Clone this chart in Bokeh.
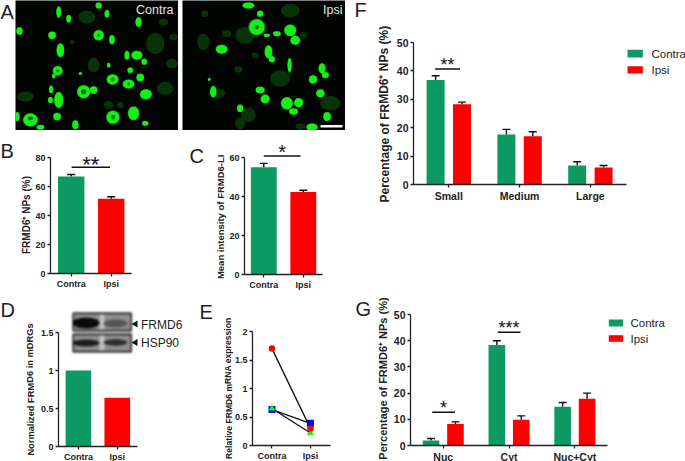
from bokeh.plotting import figure
from bokeh.layouts import column
from bokeh.models import Whisker, TeeHead, Range1d, FixedTicker, ColumnDataSource
from bokeh.core.properties import value
from bokeh.embed import file_html
from bokeh.resources import INLINE

W, H = 685, 461
GREEN, RED = "#0D9A62", "#FF0000"
FONT = "Liberation Sans"

groups_two = ["Contra", "Ipsi"]
b_vals = [67, 51.5]; b_errs = [68.3, 53]
c_vals = [55, 42.3]; c_errs = [57, 43.2]
d_vals = [1.0, 0.64]
e_circle = [1.7, 0.3]; e_square = [0.63, 0.39]; e_triangle = [0.65, 0.22]
f_groups = ["Small", "Medium", "Large"]
f_contra = [36.8, 17.6, 6.7]; f_contra_err = [38.3, 19.4, 8.0]
f_ipsi = [28.3, 17.0, 6.0]; f_ipsi_err = [29.0, 18.6, 6.7]
g_groups = ["Nuc", "Cyt", "Nuc+Cyt"]
g_contra = [1.9, 38.4, 14.8]; g_contra_err = [2.7, 40.0, 16.4]
g_ipsi = [8.2, 9.8, 17.8]; g_ipsi_err = [9.0, 11.3, 20.0]

# micrograph cells: (x, y, rx, ry) in image units
a_left_bright = [(175,35,7,17),(205,55,7,11),(295,15,9,9),(320,40,7,11),(415,65,9,14),(57,92,9,11),
 (155,105,11,11),(295,105,15,15),(335,118,8,13),(180,150,11,20),(380,165,7,13),(410,165,16,13),(432,185,8,9),
 (172,212,14,14),(160,228,5,7),(390,210,8,8),(420,232,11,11),(337,238,17,15),(385,252,17,13),(250,275,19,19),
 (280,270,11,11),(437,283,17,15),(152,268,6,11),(175,300,13,23),(150,300,7,9),(170,350,11,11),(90,360,21,19),
 (50,350,7,13),(338,352,19,19),(400,340,16,20),(225,375,9,13),(120,382,11,7),(435,370,9,7),(240,220,5,4),(325,195,5,7)]
a_left_dim = [(465,130,28,32),(260,50,25,20),(280,195,18,22),(75,290,25,15),(495,265,25,20),(515,190,18,14),
 (490,65,15,10),(520,110,12,10),(325,315,15,12),(360,315,10,10),(215,125,8,6)]
a_left_holes = [(250,275,8,8),(295,105,5,5),(337,238,6,6),(172,212,5,5),(90,355,8,6),(338,352,7,7),(385,252,5,4)]
a_right_bright = [(745,15,17,9),(770,80,23,23),(780,40,9,9),(800,105,9,5),(830,100,11,7),(870,90,17,17),
 (885,120,14,13),(665,147,17,13),(805,155,11,19),(815,177,9,9),(868,195,6,21),(965,205,10,15),(975,225,10,9),
 (938,238,12,12),(960,280,12,12),(780,270,13,10),(795,297,13,13),(860,310,17,18),(895,308,13,13),(980,350,11,13),
 (935,382,16,11),(720,325,9,11),(880,335,13,9),(640,275,9,17),(628,238,4,4)]
a_right_dim = [(610,125,18,25),(735,105,30,25),(680,100,14,10),(990,310,30,22),(650,280,25,15),(720,370,15,18),
 (910,105,10,10),(615,40,10,10),(870,30,28,20),(840,235,30,25),(715,208,12,10),(765,165,10,8),(900,380,15,10),(745,345,22,22)]
a_right_holes = [(770,80,7,7)]

ML, MR, MT, MB = 46, 8, 10, 15
figs = []


def place(fig, left, top, extra=None):
    st = {"position": "absolute", "left": f"{left}px", "top": f"{top}px"}
    st.update(extra or {})
    fig.styles = st
    figs.append(fig)


def bare(x_range, y_range, left, top, w, h, extra=None, **kw):
    p = figure(width=w, height=h, frame_width=w, frame_height=h, x_range=x_range, y_range=y_range,
               x_axis_location=None, y_axis_location=None, frame_align=False,
               output_backend="svg", toolbar_location=None,
               min_border_left=0, min_border_right=0, min_border_top=0, min_border_bottom=0,
               border_fill_alpha=0, outline_line_color=None, **kw)
    p.grid.visible = False
    place(p, left, top, extra)
    return p


def panel(frame_left, frame_right, y0_px, ytop_px, ymax, yticks, centers, names, xc_px, dx_px,
          tick_size="9px", top_extra=30):
    """Frame in page pixels; extends above the axis top so brackets are not clipped."""
    fw = frame_right - frame_left
    top_px = ytop_px - top_extra
    fh = y0_px - top_px
    scale = (y0_px - ytop_px) / ymax
    x0 = centers[0] + (frame_left - xc_px) / dx_px
    x1 = centers[0] + (frame_right - xc_px) / dx_px
    p = figure(width=int(round(fw)) + ML + MR, height=int(round(fh)) + MT + MB,
               frame_width=int(round(fw)), frame_height=int(round(fh)), frame_align=False,
               x_range=Range1d(x0, x1), y_range=Range1d(0, fh / scale),
               output_backend="svg", toolbar_location=None,
               min_border_left=ML, min_border_right=MR, min_border_top=MT, min_border_bottom=MB,
               background_fill_alpha=0, border_fill_alpha=0, outline_line_color=None)
    p.grid.visible = False
    yax, xax = p.yaxis[0], p.xaxis[0]
    yax.bounds = (0, ymax)
    yax.ticker = FixedTicker(ticks=yticks)
    xax.ticker = FixedTicker(ticks=centers)
    xax.major_label_overrides = {c: n for c, n in zip(centers, names)}
    for ax in (xax, yax):
        ax.axis_line_color = "#222222"
        ax.axis_line_width = 1.3
        ax.major_tick_line_color = "#222222"
        ax.major_tick_line_width = 1.3
        ax.major_tick_out = 3
        ax.major_tick_in = 0
        ax.minor_tick_line_color = None
        ax.major_label_text_font = FONT
        ax.major_label_text_font_style = "bold"
        ax.major_label_text_font_size = tick_size
        ax.major_label_text_color = "#222222"
        ax.major_label_standoff = 2
    place(p, round(frame_left) - ML, round(top_px) - MT)
    return p, scale


def bars(p, xs, tops, errs, width, color):
    p.vbar(x=xs, top=tops, bottom=0, width=width, fill_color=color, line_color=None)
    if errs is not None:
        src = ColumnDataSource(dict(x=xs, low=tops, up=errs))
        p.add_layout(Whisker(source=src, base="x", lower="low", upper="up", dimension="height",
                             line_color="#111111", line_width=1.4,
                             upper_head=TeeHead(size=8, line_color="#111111", line_width=1.4),
                             lower_head=None))


def sig(p, x0, x1, y, stars, star_y, size="15px"):
    p.segment(x0=[x0], y0=[y], x1=[x1], y1=[y], line_color="#111111", line_width=1.5)
    p.text(x=[(x0 + x1) / 2], y=[star_y], text=[stars], text_align="center", text_baseline="middle",
           text_font=value(FONT), text_font_size=size, text_color="#111111")


def micro(left, right, bright, dim, holes, x_min, x_max):
    p = bare(Range1d(x_min, x_max), Range1d(392, 0), left, 0, right - left, 130,
             {"filter": "blur(0.7px)"}, background_fill_color="#010401")
    def ell(cells, color, grow=1.0, alpha=1.0):
        p.ellipse(x=[c[0] for c in cells], y=[c[1] for c in cells],
                  width=[2 * c[2] * grow for c in cells], height=[2 * c[3] * grow for c in cells],
                  fill_color=color, fill_alpha=alpha, line_color=None)
    ell(dim, "#0A3F0A", 1.0, 0.8)
    ell(bright, "#12C012", 1.1, 0.7)
    ell(bright, "#14F014", 1.0)
    ell(holes, "#0A7A0A", 1.0)


micro(15, 178, a_left_bright, a_left_dim, a_left_holes, 45, 535)
micro(182, 345, a_right_bright, a_right_dim, a_right_holes, 548, 1035)

# --- B
p, s = panel(50, 131, 272.7, 157, 80, [0, 20, 40, 60, 80], [1, 2], groups_two, 70.7, 40)
for i, c in enumerate([GREEN, RED]):
    bars(p, [i + 1], [b_vals[i]], [b_errs[i]], 0.66, c)
sig(p, 1.01, 1.97, 73.3, "**", 75.5, "22px")

# --- C
p, s = panel(244.3, 322.7, 273.7, 157, 60, [0, 20, 40, 60], [1, 2], groups_two, 263.7, 39.7)
for i, c in enumerate([GREEN, RED]):
    bars(p, [i + 1], [c_vals[i]], [c_errs[i]], 0.655, c)
sig(p, 1.0, 1.93, 60.8, "*", 62.8, "20px")

# --- D
p, s = panel(58, 137.3, 446, 332.3, 1.5, [0, 0.5, 1.0, 1.5], [1, 2], groups_two, 78, 39, top_extra=5)
for i, c in enumerate([GREEN, RED]):
    bars(p, [i + 1], [d_vals[i]], None, 0.66, c)

# --- E
p, s = panel(252.3, 330, 444.3, 330.7, 2.0, [0, 0.5, 1.0, 1.5, 2.0], [1, 2], groups_two, 271.7, 38.3, top_extra=5)
for series in (e_circle, e_square, e_triangle):
    p.line([1, 2], series, line_color="#111111", line_width=1.3)
p.scatter([1, 2], e_square, marker="square", size=7, fill_color="#0000FF", line_color=None)
p.scatter([1, 2], e_triangle, marker="triangle", size=7, fill_color="#00FF00", line_color=None)
p.scatter([1, 2], e_circle, marker="circle", size=6.5, fill_color="#FF0000", line_color=None)

# --- F
p, s = panel(412.7, 625.7, 184, 42.3, 50, [0, 10, 20, 30, 40, 50], [1, 2, 3], f_groups, 448, 70.8,
             tick_size="10.5px", top_extra=5)
off, bw = 13.2 / 70.8, 18 / 70.8
bars(p, [1 - off, 2 - off, 3 - off], f_contra, f_contra_err, bw, GREEN)
bars(p, [1 + off, 2 + off, 3 + off], f_ipsi, f_ipsi_err, bw, RED)
sig(p, 1 - 13.7 / 70.8, 1 + 11.3 / 70.8, 40.7, "**", 42.2, "18px")

# --- G
p, s = panel(410, 606.7, 444.7, 314, 50, [0, 10, 20, 30, 40, 50], [1, 2, 3], g_groups, 442.7, 65.7,
             tick_size="10.5px", top_extra=5)
off, bw = 12.2 / 65.7, 16.6 / 65.7
bars(p, [1 - off, 2 - off, 3 - off], g_contra, g_contra_err, bw, GREEN)
bars(p, [1 + off, 2 + off, 3 + off], g_ipsi, g_ipsi_err, bw, RED)
sig(p, 1 - 11 / 65.7, 1 + 11.7 / 65.7, 12.7, "*", 14.4, "18px")
sig(p, 2 - 11.3 / 65.7, 2 + 11.4 / 65.7, 43.2, "***", 45, "18px")

# --- blots, own blurred layer
bl = bare(Range1d(70, 135), Range1d(355, 310), 70, 310, 65, 45, {"filter": "blur(0.9px)"}, background_fill_alpha=0)
bl.rect(x=[101.7, 101.7], y=[321.5, 342.5], width=[58, 58], height=[17.5, 17.5], fill_color="#8E8E8E",
        line_color="#333333", line_width=1.8)
bl.rect(x=[101.5, 101.5], y=[321.5, 342.5], width=[5, 5], height=[15, 15], fill_color="#C0C0C0", line_color=None)
bl.ellipse(x=[85.5, 115, 85.5, 115], y=[322.5, 323, 342.5, 342], width=[27, 24, 27, 24], height=[11, 8, 7, 6.5],
           fill_color=["#0A0A0A", "#555555", "#1C1C1C", "#2E2E2E"], line_color=None)

# --- overlay in page pixels: letters, titles, legends
ov = bare(Range1d(0, W), Range1d(H, 0), 0, 0, W, H, background_fill_alpha=0)

panel_letters = ["A", "B", "C", "D", "E", "F", "G"]
letter_x = [0, 0, 189, 0, 199, 354, 355]
letter_y = [11, 150, 155, 309, 311, 9, 308]
ov.text(x=letter_x, y=letter_y, text=panel_letters, text_baseline="middle", text_font=value(FONT),
        text_font_size="20px", text_color="#222222")

y_titles = ["FRMD6\u207A NPs (%)", "Mean intensity of FRMD6-LI", "Normalized FRMD6 in mDRGs",
            "Relative FRMD6 mRNA expression", "Percentage of FRMD6\u207A NPs (%)", "Percentage of FRMD6\u207A NPs (%)"]
title_x = [26, 220, 30, 228, 384, 382.7]
title_y = [214.5, 216.3, 389, 387.7, 113.7, 378]
title_size = ["10px", "9.5px", "9.3px", "8.6px", "12px", "11px"]
ov.text(x=title_x, y=title_y, text=y_titles, angle=1.5708, angle_units="rad", text_align="center",
        text_baseline="middle", text_font=value(FONT), text_font_style="bold", text_font_size=title_size,
        text_color="#222222")

image_labels = ["Contra", "Ipsi"]
ov.text(x=[135.5, 322.5], y=[9, 9], text=image_labels, text_baseline="middle", text_font=value(FONT),
        text_font_size="12.5px", text_color="#E4E4E4")
ov.rect(x=[331], y=[125.7], width=[22], height=[2.4], fill_color="white", line_color=None)

legend_labels = ["Contra", "Ipsi"]
ov.rect(x=[634.7, 634.7, 615.5, 615.5], y=[53.2, 69.4, 322.5, 338], width=[15.3, 15.3, 14.4, 14.4],
        height=[7.8, 7.4, 7, 6.6], fill_color=[GREEN, RED, GREEN, RED], line_color=None)
ov.text(x=[651, 651, 630, 630], y=[53, 69.5, 322.5, 338], text=legend_labels * 2, text_baseline="middle",
        text_font=value(FONT), text_font_size="11.5px", text_color="#222222")

blot_labels = ["FRMD6", "HSP90"]
ov.text(x=[140.5, 140.5], y=[324, 342], text=blot_labels, text_baseline="middle", text_font=value(FONT),
        text_font_size="12px", text_color="#222222")
ov.scatter(x=[135, 135], y=[323.5, 342], marker="triangle", size=7, angle=1.5708,
           fill_color="#111111", line_color=None)

root = column(*figs, width=W, height=H)
root.styles = {"position": "absolute", "left": "0px", "top": "0px"}
open("out.html", "w").write(file_html(root, INLINE))
